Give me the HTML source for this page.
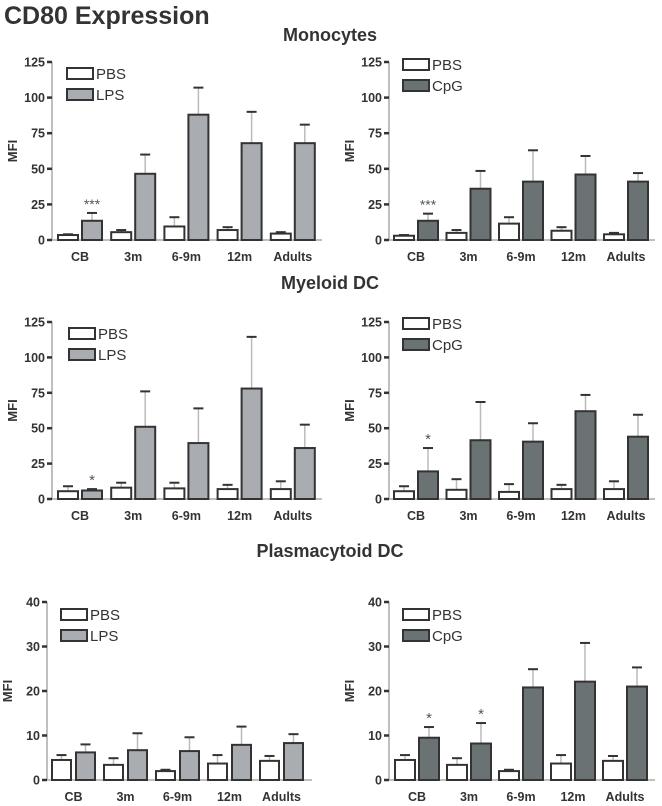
<!DOCTYPE html>
<html><head><meta charset="utf-8"><style>
html,body{margin:0;padding:0;background:#fff;}
svg{display:block;font-family:"Liberation Sans",Arial,sans-serif;}
</style></head><body>
<svg id="fig" width="662" height="806" viewBox="0 0 662 806">
<text x="4" y="24" font-size="25" font-weight="bold" fill="#333">CD80 Expression</text>
<text x="330" y="41" font-size="18" font-weight="bold" fill="#333" text-anchor="middle">Monocytes</text>
<text x="330" y="289" font-size="18" font-weight="bold" fill="#333" text-anchor="middle">Myeloid DC</text>
<text x="330" y="557" font-size="18" font-weight="bold" fill="#333" text-anchor="middle">Plasmacytoid DC</text>
</svg>
<script>
const categories = ["CB","3m","6-9m","12m","Adults"];
const ticksHigh = [0,25,50,75,100,125];
const ticksLow = [0,10,20,30,40];

const monoLpsPbs = [3.5,5.5,9.5,7,4.5];
const monoLpsPbsErr = [0.5,1.5,6.5,2,1];
const monoLps = [13.5,46.5,88,68,68];
const monoLpsErr = [5.5,13.5,19,22,13];

const monoCpgPbs = [3,5,11.5,6.5,4];
const monoCpgPbsErr = [0.5,2,4.5,2.5,1];
const monoCpg = [13.5,36,41,46,41];
const monoCpgErr = [5,12.5,22,13,6];

const myeLpsPbs = [5.5,8,7.5,7,7];
const myeLpsPbsErr = [3.5,3.5,4,3,5.5];
const myeLps = [6,51,39.5,78,36];
const myeLpsErr = [1,25,24.5,36.5,16.5];

const myeCpgPbs = [5.5,6.5,5,7,7];
const myeCpgPbsErr = [3.5,7.5,5.5,3,5.5];
const myeCpg = [19.5,41.5,40.5,62,44];
const myeCpgErr = [16.5,27,13,11.5,15.5];

const plaLpsPbs = [4.5,3.4,2,3.7,4.3];
const plaLpsPbsErr = [1.1,1.5,0.3,1.9,1.1];
const plaLps = [6.2,6.7,6.5,7.9,8.3];
const plaLpsErr = [1.8,3.8,3.1,4.1,2];

const plaCpgPbs = [4.5,3.4,2,3.7,4.3];
const plaCpgPbsErr = [1.1,1.5,0.3,1.9,1.1];
const plaCpg = [9.5,8.2,20.8,22.1,21];
const plaCpgErr = [2.4,4.6,4.1,8.7,4.3];

const svg = document.getElementById('fig');
const NS = 'http://www.w3.org/2000/svg';
function mk(tag, attrs, parent){
  const e = document.createElementNS(NS, tag);
  for (const k in attrs) e.setAttribute(k, attrs[k]);
  (parent||svg).appendChild(e);
  return e;
}

function panel(o){
  const g = mk('g', {});
  
  
  const y = v => o.y0 - (v / o.max) * (o.y0 - o.yTop);
  const gx = i => o.gStart + i * o.gStep;
  const ya = mk('line', {x1:o.ax, y1:o.yTop, x2:o.ax, y2:o.y0, stroke:'#aaa', 'stroke-width':1.5}, g);
  
  
  const xa = mk('line', {x1:o.ax, y1:o.y0, x2:o.axEnd, y2:o.y0, stroke:'#aaa', 'stroke-width':1.5}, g);
  
  
  o.ticks.forEach(t => {
    const ty = y(t);
    mk('line', {x1:o.ax-5, y1:ty, x2:o.ax, y2:ty, stroke:'#333', 'stroke-width':2.5}, g);
    const tl = mk('text', {x:o.ax-7, y:ty+4.5, 'font-size':12.5, 'font-weight':'bold', fill:'#333', 'text-anchor':'end'}, g);
    tl.textContent = t;
    
    
  });
  const mt = mk('text', {x:0, y:0, 'font-size':13, 'font-weight':'bold', fill:'#333', 'text-anchor':'middle', transform:'translate('+(o.ax-35)+','+((o.y0+o.yTop)/2)+') rotate(-90)'}, g);
  mt.textContent = 'MFI';
  
  
  const series = [
    {vals:o.pbs, err:o.pbsErr, fill:'#fff', off:0, nm:'pbs'},
    {vals:o.trt, err:o.trtErr, fill:o.color, off:o.bw + o.gap, nm:o.trtName.toLowerCase()}
  ];
  categories.forEach((c, i) => {
    series.forEach(s => {
      const x = gx(i) + s.off;
      const v = s.vals[i], e = s.err[i];
      const top = y(v + e);
      mk('line', {x1:x+o.bw/2, y1:y(v), x2:x+o.bw/2, y2:top, stroke:'#bbb', 'stroke-width':1.5}, g);
      const cap = mk('line', {x1:x+o.bw/2-5, y1:top, x2:x+o.bw/2+5, y2:top, stroke:'#333', 'stroke-width':2}, g);
      
      
      const b = mk('rect', {x:x, y:y(v), width:o.bw, height:o.y0 - y(v), fill:s.fill, stroke:'#333', 'stroke-width':2}, g);
      
      
    });
    const cl = mk('text', {x:gx(i) + o.bw + o.gap/2, y:o.y0 + 21, 'font-size':12.5, 'font-weight':'bold', fill:'#333', 'text-anchor':'middle'}, g);
    cl.textContent = c;
    
    
  });
  (o.stars||[]).forEach(st => {
    const i = st[0];
    const v = o.trt[i] + o.trtErr[i];
    const sx = gx(i) + o.bw + o.gap + o.bw/2;
    const t = mk('text', {x:sx, y:y(v) - 4, 'font-size':st[1].length>1?14:15, fill:'#555', 'text-anchor':'middle'}, g);
    t.textContent = st[1];
    
    
  });
  [['PBS','#fff',0],[o.trtName,o.color,21]].forEach(L => {
    const r = mk('rect', {x:o.lx, y:o.ly + L[2], width:26, height:11, fill:L[1], stroke:'#333', 'stroke-width':2}, g);
    
    
    const t = mk('text', {x:o.lx + 29, y:o.ly + L[2] + 11, 'font-size':15, fill:'#333'}, g);
    t.textContent = L[0];
    
    
  });
}

const LPS = '#a9acb1', CPG = '#6a7274';
panel({name:'monocytes-lps-chart', ax:52, axEnd:322, y0:240, yTop:62, max:125, ticks:ticksHigh, gStart:58, gStep:53.2, bw:20, gap:4,
  pbs:monoLpsPbs, pbsErr:monoLpsPbsErr, trt:monoLps, trtErr:monoLpsErr, trtName:'LPS', color:LPS, lx:67, ly:68, stars:[[0,'***']]});
panel({name:'monocytes-cpg-chart', ax:389, axEnd:655, y0:240, yTop:62, max:125, ticks:ticksHigh, gStart:394, gStep:52.5, bw:20, gap:4,
  pbs:monoCpgPbs, pbsErr:monoCpgPbsErr, trt:monoCpg, trtErr:monoCpgErr, trtName:'CpG', color:CPG, lx:403, ly:59, stars:[[0,'***']]});
panel({name:'myeloid-lps-chart', ax:52, axEnd:322, y0:499, yTop:322, max:125, ticks:ticksHigh, gStart:58, gStep:53.2, bw:20, gap:4,
  pbs:myeLpsPbs, pbsErr:myeLpsPbsErr, trt:myeLps, trtErr:myeLpsErr, trtName:'LPS', color:LPS, lx:69, ly:328, stars:[[0,'*']]});
panel({name:'myeloid-cpg-chart', ax:389, axEnd:655, y0:499, yTop:322, max:125, ticks:ticksHigh, gStart:394, gStep:52.5, bw:20, gap:4,
  pbs:myeCpgPbs, pbsErr:myeCpgPbsErr, trt:myeCpg, trtErr:myeCpgErr, trtName:'CpG', color:CPG, lx:403, ly:318, stars:[[0,'*']]});
panel({name:'plasmacytoid-lps-chart', ax:47, axEnd:312, y0:780, yTop:602, max:40, ticks:ticksLow, gStart:52, gStep:52, bw:19, gap:5,
  pbs:plaLpsPbs, pbsErr:plaLpsPbsErr, trt:plaLps, trtErr:plaLpsErr, trtName:'LPS', color:LPS, lx:61, ly:609, stars:[]});
panel({name:'plasmacytoid-cpg-chart', ax:389, axEnd:655, y0:780, yTop:602, max:40, ticks:ticksLow, gStart:395, gStep:52, bw:20, gap:4,
  pbs:plaCpgPbs, pbsErr:plaCpgPbsErr, trt:plaCpg, trtErr:plaCpgErr, trtName:'CpG', color:CPG, lx:403, ly:609, stars:[[0,'*'],[1,'*']]});
</script>
</body></html>
